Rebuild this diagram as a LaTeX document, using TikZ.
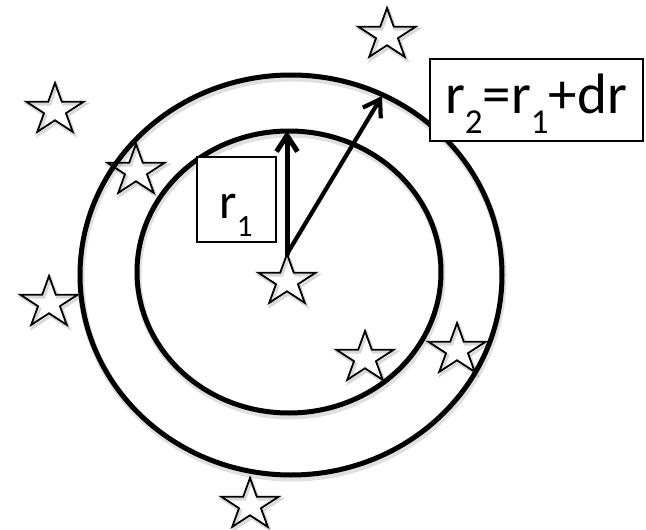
\documentclass[tikz,border=0pt]{standalone}
\usepackage{fontspec}
\setmainfont{Carlito}
\usetikzlibrary{arrows.meta}
\newcommand\subnum[2]{\raisebox{-0.36em}{\fontsize{#2}{#2}\selectfont #1}}
\tikzset{
  ring/.style={line width=5pt, draw=black},
  ringshadow/.style={line width=7pt, draw=black, opacity=0.12, shift={(1pt,-3pt)}},
  starline/.style={line width=1.8pt, draw=black, line join=miter},
  starshadow/.style={line width=3pt, draw=black, opacity=0.15, shift={(1.5pt,-2.5pt)}},
  radarrow/.style={draw=black, line cap=round, -{Straight Barb[length=16pt,width=21pt]}},
  labelbox/.style={draw=black, fill=white, line width=1.6pt, inner sep=0pt},
  labeltext/.style={anchor=base, inner sep=0pt, text=black},
  starpic/.pic={
    \begin{scope}[xscale=1.12]
      \draw[starshadow] (90:27pt) -- (126:10.3pt) -- (162:27pt) -- (198:10.3pt) -- (234:27pt) -- (270:10.3pt) -- (306:27pt) -- (342:10.3pt) -- (18:27pt) -- (54:10.3pt) -- cycle;
      \draw[starline] (90:27pt) -- (126:10.3pt) -- (162:27pt) -- (198:10.3pt) -- (234:27pt) -- (270:10.3pt) -- (306:27pt) -- (342:10.3pt) -- (18:27pt) -- (54:10.3pt) -- cycle;
    \end{scope}
  }
}
\begin{document}
\begin{tikzpicture}[x=1pt, y=-1pt]
  \useasboundingbox (0,0) rectangle (646,530);
  % rings
  \draw[ringshadow] (291,275) ellipse [x radius=211, y radius=200];
  \draw[ringshadow] (289,272) ellipse [x radius=152, y radius=141];
  \draw[ring] (291,275) ellipse [x radius=211, y radius=200];
  \draw[ring] (289,272) ellipse [x radius=152, y radius=141];
  % stars
  \coordinate (sTop) at (387,35);
  \coordinate (sA) at (55,110);
  \coordinate (sB) at (136,171);
  \coordinate (sC) at (49,303);
  \coordinate (sMid) at (287,281);
  \coordinate (sD) at (365,358);
  \coordinate (sE) at (457,350);
  \coordinate (sBot) at (250,505);
  \foreach \s in {sTop,sA,sB,sC,sMid,sD,sE,sBot} {\pic at (\s) {starpic};}
  % radii
  \coordinate (ctop) at (287,254);
  \coordinate (innertop) at (287,131);
  \coordinate (outerpt) at (382,96);
  \draw[radarrow, line width=5pt] (ctop) -- (innertop);
  \draw[radarrow, line width=4.2pt] (ctop) -- (outerpt);
  % label boxes
  \draw[labelbox] (197,157) rectangle (276,242);
  \node[labeltext] (r1lbl) at (236,218) {\fontsize{50}{56}\selectfont r\subnum{1}{31}};
  \draw[labelbox] (430,59) rectangle (643,141);
  \node[labeltext] (r2lbl) at (536,113) {\fontsize{57}{63}\selectfont r\subnum{2}{35}=r\subnum{1}{35}+dr};
\end{tikzpicture}
\end{document}
